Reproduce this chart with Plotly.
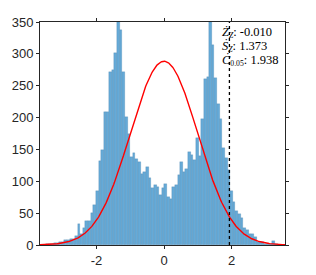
import numpy as np
import plotly.graph_objects as go

# Histogram data (bin edges start, bin width, counts)
bin_start = -3.654
bin_width = 0.078
counts = [0, 0, 1, 1, 2, 3, 3, 4, 5, 8, 8, 9, 10, 14, 33, 17, 27, 38, 37, 50,
          63, 84, 132, 149, 208, 209, 272, 275, 301, 350, 337, 272, 201, 175,
          138, 145, 135, 131, 111, 115, 123, 105, 89, 94, 91, 78, 89, 96, 75,
          72, 91, 94, 110, 131, 115, 120, 146, 141, 134, 168, 140, 197, 260,
          264, 350, 314, 262, 222, 197, 152, 136, 118, 85, 68, 54, 48, 42, 26,
          23, 18, 17, 12, 5, 5, 4, 2, 2, 2, 7, 1, 0]

# Statistics shown in the chart
z_mean = -0.010
z_std = 1.373
c_005 = 1.938

x_range = [-3.674, 3.585]
y_range = [0, 350]
x_ticks = [-2, 0, 2]
y_ticks = [0, 50, 100, 150, 200, 250, 300, 350]

counts = np.array(counts, dtype=float)
centers = bin_start + bin_width * (np.arange(len(counts)) + 0.5)

# Reference standard-normal curve scaled to the histogram area
xs = np.linspace(x_range[0], x_range[1], 400)
ys = counts.sum() * bin_width * np.exp(-xs ** 2 / 2) / np.sqrt(2 * np.pi)

fig = go.Figure()
fig.add_trace(go.Bar(
    x=centers, y=counts, width=bin_width,
    marker=dict(color="#66AAD7", line=dict(color="rgba(40,90,140,0.35)", width=0.5)),
    showlegend=False, hoverinfo="skip",
))
fig.add_trace(go.Scatter(
    x=xs, y=ys, mode="lines", line=dict(color="#FF0000", width=1.4),
    showlegend=False, hoverinfo="skip",
))
fig.add_shape(type="line", x0=c_005, x1=c_005, y0=y_range[0], y1=y_range[1],
              xref="x", yref="y", line=dict(color="black", width=1.3, dash="dot"))

labels = [
    f"<i>Ż</i><span style='font-size:11px'><sub><i>Z</i></sub></span>: {z_mean:.3f}",
    f"<i>Ṡ</i><span style='font-size:11px'><sub><i>Z</i></sub></span>: {z_std:.3f}",
    f"<i>Ċ</i><span style='font-size:11px'><sub>0.05</sub></span>: {c_005:.3f}",
]
ypos = [0.951, 0.891, 0.831]
for t, yp in zip(labels, ypos):
    fig.add_annotation(text=t, xref="paper", yref="paper", x=0.735, y=yp,
                       xanchor="left", yanchor="middle", showarrow=False,
                       font=dict(family="Liberation Serif", size=12.5, color="black"))

axis_common = dict(showline=True, linecolor="#262626", linewidth=1, mirror="ticks",
                   ticks="outside", ticklen=3, tickcolor="#262626", showgrid=False,
                   zeroline=False, automargin=False,
                   tickfont=dict(family="Liberation Sans", size=13, color="#262626"))
fig.update_xaxes(range=x_range, tickvals=x_ticks, ticktext=[str(v) for v in x_ticks], **axis_common)
fig.update_yaxes(range=y_range, tickvals=y_ticks, **axis_common)

fig.update_layout(
    width=308, height=267,
    margin=dict(l=32, r=31, t=14, b=30),
    paper_bgcolor="white", plot_bgcolor="white",
    bargap=0,
)
fig.write_html("out.html")
